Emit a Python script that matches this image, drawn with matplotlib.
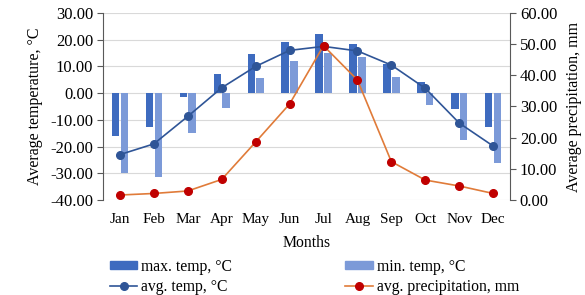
import numpy as np
import matplotlib.pyplot as plt
from matplotlib.lines import Line2D
from matplotlib.patches import Patch

plt.rcParams['font.family'] = ['Liberation Serif', 'DejaVu Serif']

months = ['Jan', 'Feb', 'Mar', 'Apr', 'May', 'Jun', 'Jul', 'Aug', 'Sep', 'Oct', 'Nov', 'Dec']
max_temp = [-16, -12.5, -1.5, 7, 14.5, 19, 22, 18.5, 11, 4, -6, -12.5]
min_temp = [-30, -31.5, -15, -5.5, 5.5, 12, 15, 13.5, 6, -4.5, -17.5, -26]
avg_temp = [-23, -19, -8.7, 2, 10, 16, 17.5, 15.8, 10.5, 1.8, -11.2, -19.8]
precip = [1.6, 2.1, 2.9, 6.6, 18.6, 30.8, 49.5, 38.5, 12.3, 6.4, 4.5, 2.1]

c_max = '#3E6BBF'
c_min = '#7C9AD8'
c_avg = '#2F5597'
c_pr_line = '#E07B39'
c_pr_dot = '#C00000'
spine_c = '#595959'

fig = plt.figure(figsize=(5.85, 2.95), dpi=100)
ax = fig.add_axes([0.176, 0.322, 0.696, 0.634])
x = np.arange(len(months))
w = 0.22
ax.bar(x - 0.13, max_temp, w, color=c_max, zorder=2)
ax.bar(x + 0.13, min_temp, w, color=c_min, zorder=2)
ax.plot(x, avg_temp, color=c_avg, lw=1.2, marker='o', ms=5.5, zorder=3)
ax.set_ylim(-40, 30)
ax.set_xlim(-0.5, 11.5)
ax.set_yticks(np.arange(-40, 31, 10))
ax.set_yticklabels([f'{v:.2f}' for v in np.arange(-40, 31, 10)])
ax.set_xticks(x)
ax.set_xticklabels(months)
ax.grid(axis='y', color='#D9D9D9', lw=0.8, zorder=0)
ax.tick_params(axis='x', length=0, labelsize=11, pad=9)
ax.tick_params(axis='y', length=4, color=spine_c, labelsize=12, pad=3)
for s in ['top', 'right', 'bottom']:
    ax.spines[s].set_visible(False)
ax.spines['left'].set_color(spine_c)
ax.set_ylabel('Average temperature, °C', fontsize=11.5, labelpad=5)
ax.set_xlabel('Months', fontsize=11.3, labelpad=7)

ax2 = ax.twinx()
ax2.plot(x, precip, color=c_pr_line, lw=1.2, marker='o', ms=5.5,
         markerfacecolor=c_pr_dot, markeredgecolor=c_pr_dot, zorder=4)
ax2.set_ylim(0, 60)
ax2.set_yticks(np.arange(0, 61, 10))
ax2.set_yticklabels([f'{v:.2f}' for v in np.arange(0, 61, 10)])
ax2.tick_params(axis='y', length=4, color=spine_c, labelsize=12, pad=3)
for s in ['top', 'left', 'bottom']:
    ax2.spines[s].set_visible(False)
ax2.spines['right'].set_color(spine_c)
ax2.set_ylabel('Average precipitation, mm', fontsize=11.5, labelpad=6)

handles = [
    Patch(color=c_max, label='max. temp, °C'),
    Line2D([], [], color=c_avg, lw=1.2, marker='o', ms=5.5, label='avg. temp, °C'),
    Patch(color=c_min, label='min. temp, °C'),
    Line2D([], [], color=c_pr_line, lw=1.2, marker='o', ms=5.5,
           markerfacecolor=c_pr_dot, markeredgecolor=c_pr_dot, label='avg. precipitation, mm'),
]
fig.legend(handles=handles, ncol=2, loc='lower left', bbox_to_anchor=(0.177, -0.02),
           frameon=False, fontsize=11.3, handlelength=1.75, handleheight=0.45,
           handletextpad=0.25, columnspacing=7.2, labelspacing=0.25, borderaxespad=0.0)

fig.savefig('out.png', dpi=100)
